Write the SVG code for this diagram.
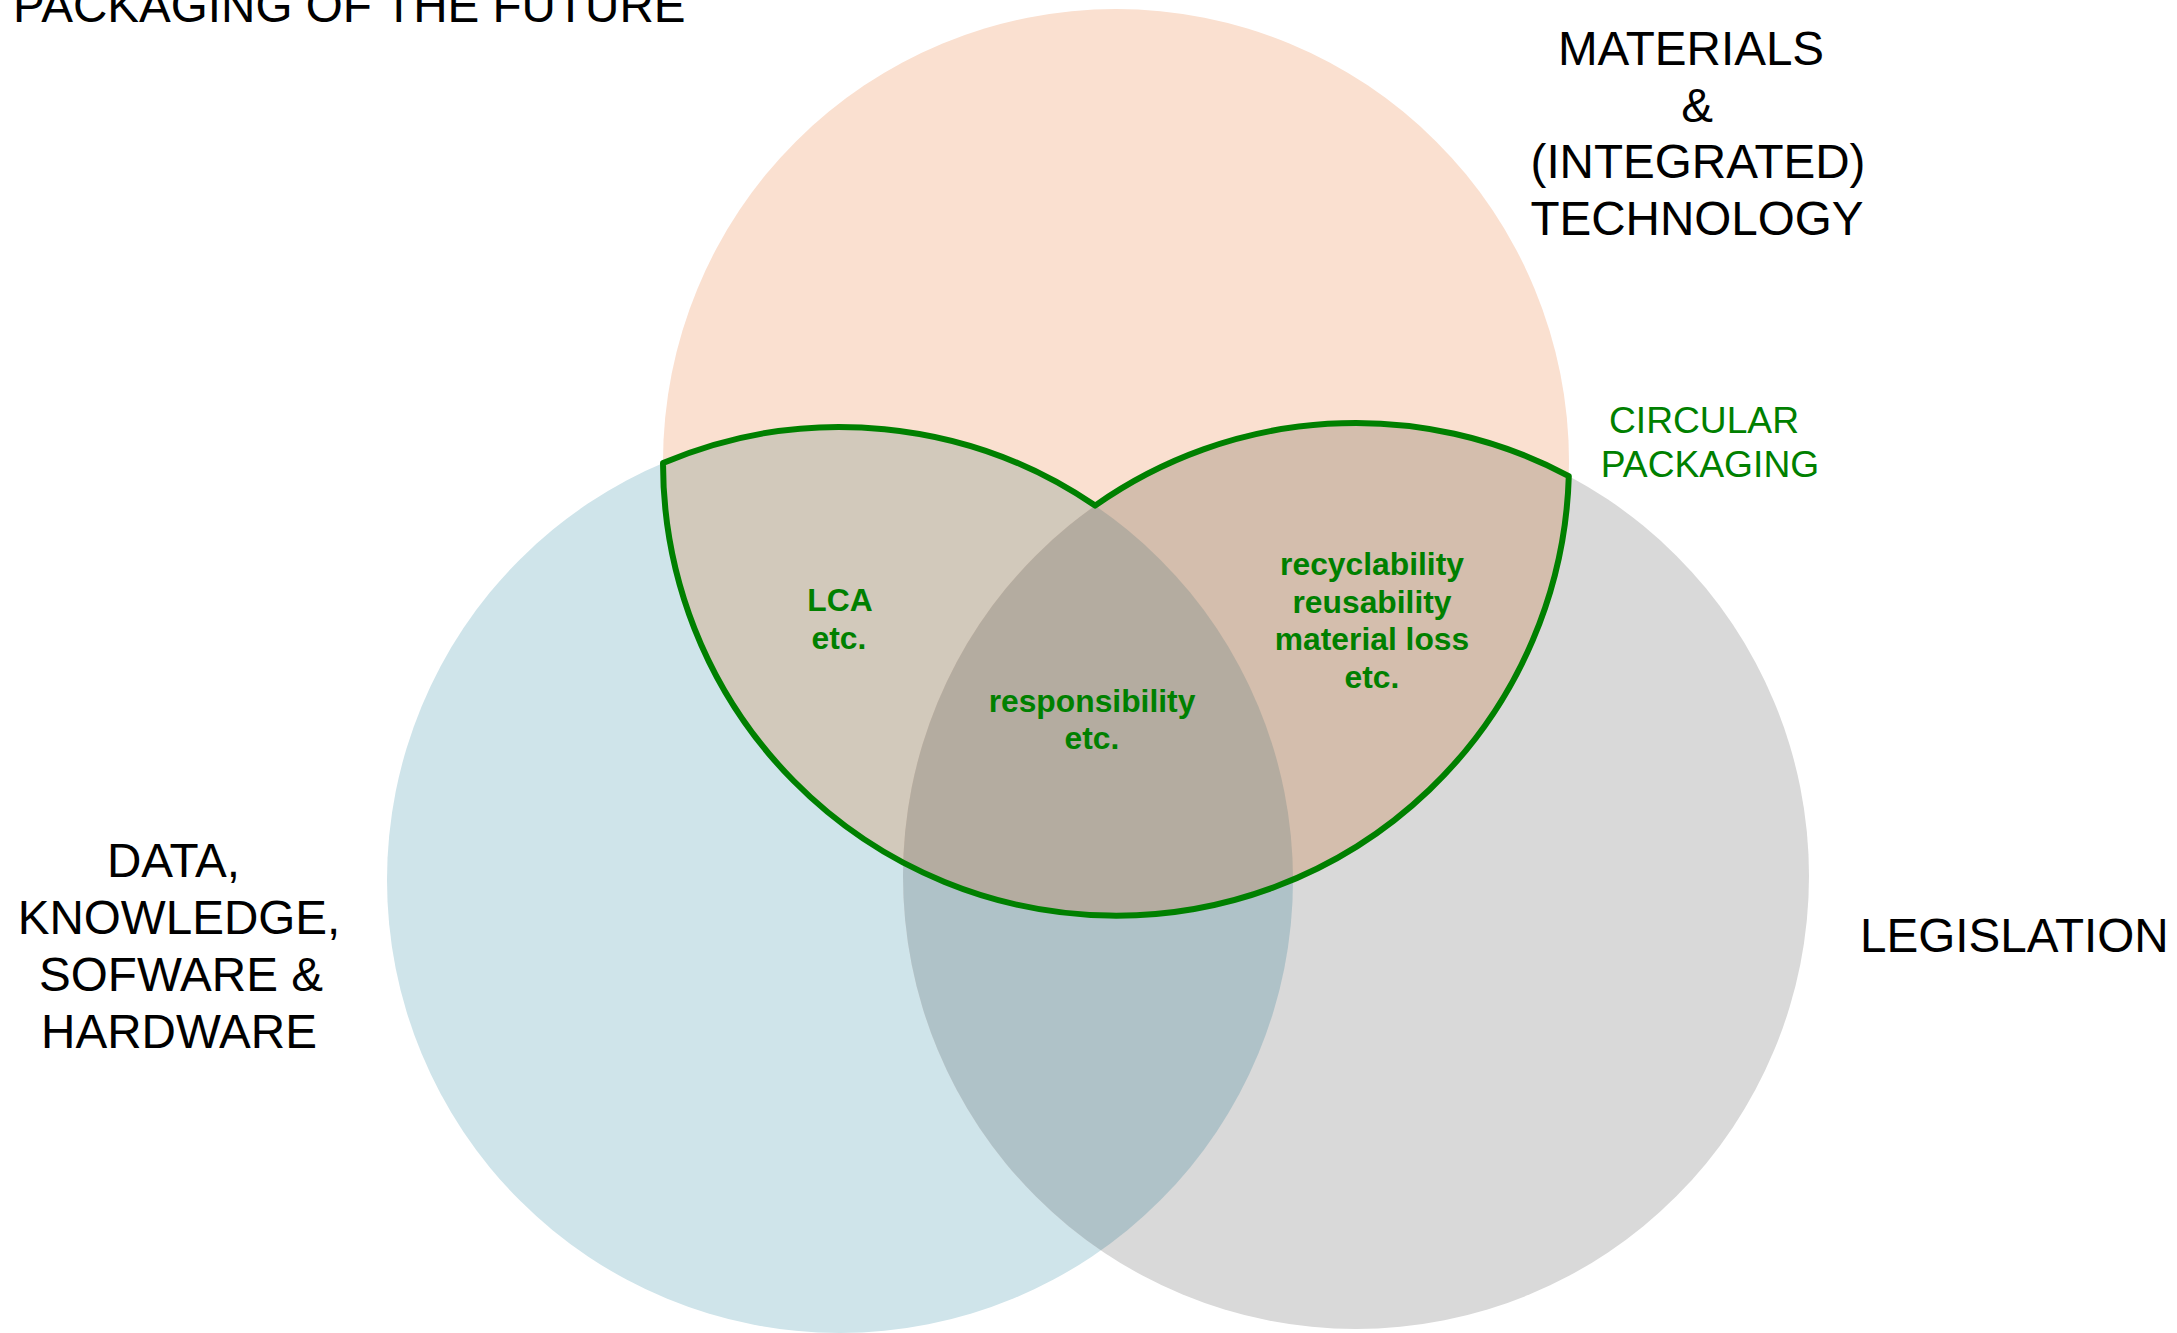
<svg xmlns="http://www.w3.org/2000/svg" width="2177" height="1333" viewBox="0 0 2177 1333">
<style>
.lbl{font-family:"Liberation Sans",Arial,sans-serif;font-size:47.6px;fill:#000;text-anchor:middle}
.gl{font-family:"Liberation Sans",Arial,sans-serif;font-size:37.2px;fill:#008000;text-anchor:middle}
.bl{font-family:"Liberation Sans",Arial,sans-serif;font-size:31.8px;font-weight:bold;fill:#008000;text-anchor:middle}
</style>
<defs>
<clipPath id="cT"><circle cx="1116" cy="462" r="453"/></clipPath>
<clipPath id="cL"><circle cx="840" cy="880" r="453"/></clipPath>
<clipPath id="cR"><circle cx="1356" cy="876" r="453"/></clipPath>
</defs>
<rect width="2177" height="1333" fill="#fff"/>
<g id="circle-data">
<circle cx="840" cy="880" r="453" fill="#CFE4EA"/>
</g>
<g id="circle-legislation">
<circle cx="1356" cy="876" r="453" fill="#D9D9D9"/>
</g>
<g id="circle-materials">
<circle cx="1116" cy="462" r="453" fill="#FAE0D0"/>
</g>
<g id="overlaps">
<circle cx="1356" cy="876" r="453" fill="#AFC2C8" clip-path="url(#cL)"/>
<circle cx="840" cy="880" r="453" fill="#D2C9BB" clip-path="url(#cT)"/>
<circle cx="1356" cy="876" r="453" fill="#D4BEAD" clip-path="url(#cT)"/>
<g clip-path="url(#cT)"><circle cx="1356" cy="876" r="453" fill="#B4ACA0" clip-path="url(#cL)"/></g>
</g>
<g id="circular-packaging">
<path d="M663,463 A453,453 0 0 1 1095.1,505.6 A453,453 0 0 1 1568.8,476.1 A453,453 0 0 1 663,463 Z" fill="none" stroke="#008000" stroke-width="6" stroke-linejoin="round"/>
</g>
<g id="title"><text class="lbl" x="13" y="21.5" style="text-anchor:start">PACKAGING OF THE FUTURE</text></g>
<g id="label-materials">
<text class="lbl" x="1691" y="65">MATERIALS</text>
<text class="lbl" x="1697" y="122">&amp;</text>
<text class="lbl" x="1698" y="178">(INTEGRATED)</text>
<text class="lbl" x="1697" y="235">TECHNOLOGY</text>
</g>
<g id="label-circular">
<text class="gl" x="1704" y="433">CIRCULAR</text>
<text class="gl" x="1710" y="477">PACKAGING</text>
</g>
<g id="label-data">
<text class="lbl" x="173.5" y="877">DATA,</text>
<text class="lbl" x="179" y="934">KNOWLEDGE,</text>
<text class="lbl" x="181" y="991">SOFWARE &amp;</text>
<text class="lbl" x="179" y="1048">HARDWARE</text>
</g>
<g id="label-legislation"><text class="lbl" x="1860" y="952" style="text-anchor:start">LEGISLATION</text></g>
<g id="label-lca">
<text class="bl" x="840" y="611">LCA</text>
<text class="bl" x="839" y="649">etc.</text>
</g>
<g id="label-responsibility">
<text class="bl" x="1092" y="712">responsibility</text>
<text class="bl" x="1092" y="749">etc.</text>
</g>
<g id="label-recyclability">
<text class="bl" x="1372" y="575">recyclability</text>
<text class="bl" x="1372" y="613">reusability</text>
<text class="bl" x="1372" y="650">material loss</text>
<text class="bl" x="1372" y="688">etc.</text>
</g>
</svg>
